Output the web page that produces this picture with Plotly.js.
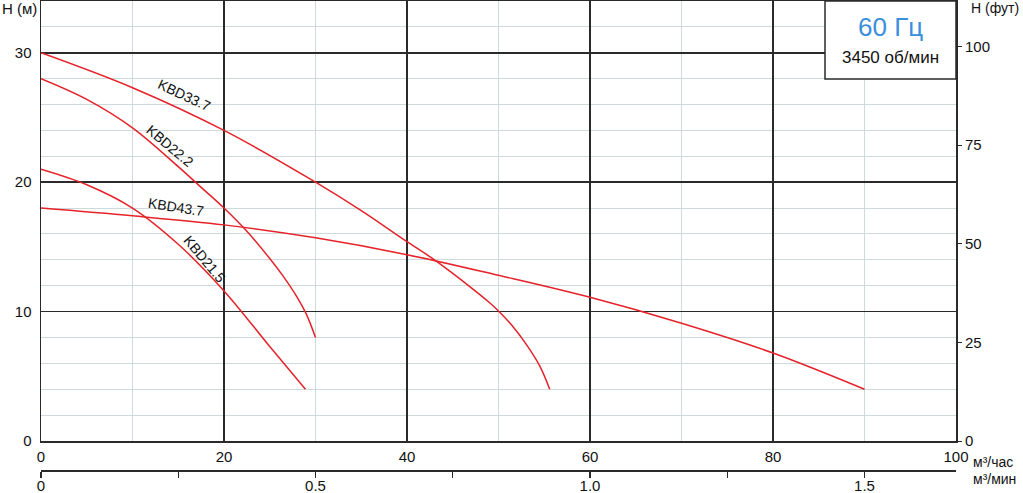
<!DOCTYPE html>
<html>
<head>
<meta charset="utf-8">
<script src="https://cdn.plot.ly/plotly-3.0.1.min.js"></script>
<style>html,body{margin:0;padding:0;background:#fff;}#chart{width:1023px;height:493px;}</style>
</head>
<body>
<div id="chart"></div>
<script>
// Flow (m³/h) and head (m)
const q33 = [0, 10, 20, 30, 35, 40, 43, 45, 47, 49, 50, 51.5, 53, 54.5, 55.6];
const h33 = [30, 27.3, 24.0, 20.0, 17.8, 15.4, 14.0, 12.95, 11.85, 10.7, 10.05, 8.9, 7.5, 5.8, 4.0];
const q22 = [0, 5, 10, 15, 17.5, 20, 22.5, 25, 26.5, 28, 29, 30];
const h22 = [28, 26.4, 24.2, 21.2, 19.6, 18.0, 16.2, 14.1, 12.7, 11.1, 9.8, 8.0];
const q43 = [0, 10, 20, 30, 40, 50, 60, 70, 80, 90];
const h43 = [18, 17.4, 16.7, 15.7, 14.4, 12.8, 11.1, 9.1, 6.8, 4.0];
const q21 = [0, 5, 10, 15, 20, 25, 28.9];
const h21 = [21, 19.8, 18.0, 15.2, 11.6, 7.3, 4.0];

const seriesNames = ['KBD33.7', 'KBD22.2', 'KBD43.7', 'KBD21.5'];
const xTicks = [0, 20, 40, 60, 80, 100];
const yTicks = [0, 10, 20, 30];
const ftTicks = [0, 25, 50, 75, 100];
const minTicks = [0, 0.5, 1.0, 1.5];
const minTickText = ['0', '0.5', '1.0', '1.5'];
const minMinor = [0.25, 0.75, 1.25];

const FONT = 'Liberation Sans, Arial, sans-serif';
const RED = '#e52229';
const DARK = '#2a2a2a';
const LIGHT = '#cdd9da';
const TXT = '#111';

const curves = [[q33, h33], [q22, h22], [q43, h43], [q21, h21]];
const traces = curves.map((c, i) => ({
  x: c[0], y: c[1], name: seriesNames[i], type: 'scatter', mode: 'lines',
  line: {color: RED, width: 1.5, shape: 'spline', smoothing: 1},
  hoverinfo: 'skip', showlegend: false, xaxis: 'x', yaxis: 'y'
}));
// invisible helper trace so the secondary axes (m³/min, ft) are drawn
traces.push({x: [null], y: [null], type: 'scatter', mode: 'lines', xaxis: 'x2', yaxis: 'y2', showlegend: false, hoverinfo: 'skip'});

const mToFt = 1 / 0.3048;
const yMax = 34;
const dom0 = (470 - 441) / 469;

const labelPos = [
  {t: seriesNames[0], x: 15.6, y: 26.7, a: 25},
  {t: seriesNames[1], x: 14.1, y: 22.8, a: 40},
  {t: seriesNames[2], x: 14.8, y: 18.1, a: 9},
  {t: seriesNames[3], x: 17.9, y: 14.1, a: 50}
];

const annotations = labelPos.map(l => ({
  text: l.t, x: l.x, y: l.y, xref: 'x', yref: 'y', showarrow: false,
  textangle: l.a, font: {family: FONT, size: 14, color: TXT}
}));
const px = v => (v - 41) / 915;
const py = v => (470 - v) / 469;
annotations.push(
  {text: 'H (м)', x: px(0), y: py(8), xref: 'paper', yref: 'paper', xanchor: 'left', yanchor: 'middle', showarrow: false, font: {family: FONT, size: 15, color: TXT}},
  {text: 'H (фут)', x: px(969), y: py(8), xref: 'paper', yref: 'paper', xanchor: 'left', yanchor: 'middle', showarrow: false, font: {family: FONT, size: 14, color: TXT}},
  {text: 'м³/час', x: px(971), y: py(462), xref: 'paper', yref: 'paper', xanchor: 'left', yanchor: 'middle', showarrow: false, font: {family: FONT, size: 14, color: TXT}},
  {text: 'м³/мин', x: px(971), y: py(479), xref: 'paper', yref: 'paper', xanchor: 'left', yanchor: 'middle', showarrow: false, font: {family: FONT, size: 14, color: TXT}},
  {text: '60 Гц', x: px(890), y: py(27), xref: 'paper', yref: 'paper', xanchor: 'center', yanchor: 'middle', showarrow: false, font: {family: FONT, size: 26, color: '#3a8fdc'}},
  {text: '3450 об/мин', x: px(890), y: py(58), xref: 'paper', yref: 'paper', xanchor: 'center', yanchor: 'middle', showarrow: false, font: {family: FONT, size: 17, color: TXT}}
);

const tickFont = {family: FONT, size: 15, color: TXT};

const layout = {
  width: 1023, height: 493,
  margin: {l: 41, r: 67, t: 1, b: 23, pad: 0},
  paper_bgcolor: '#fff', plot_bgcolor: '#fff',
  font: {family: FONT, size: 15, color: TXT},
  showlegend: false,
  xaxis: {
    range: [0, 100], domain: [0, 1], anchor: 'y',
    tickvals: xTicks, ticks: '', showgrid: true, gridcolor: DARK, gridwidth: 1.5,
    minor: {dtick: 10, showgrid: true, gridcolor: LIGHT, gridwidth: 1},
    showline: true, linecolor: DARK, linewidth: 1.5, mirror: true, zeroline: false,
    tickfont: tickFont, ticklabelstandoff: 1
  },
  yaxis: {
    range: [0, yMax], domain: [dom0, 1], anchor: 'x',
    tickvals: yTicks, ticks: '', showgrid: true, gridcolor: DARK, gridwidth: 1.5,
    minor: {dtick: 2, showgrid: true, gridcolor: LIGHT, gridwidth: 1},
    showline: true, linecolor: DARK, linewidth: 1.5, mirror: true, zeroline: false,
    tickfont: tickFont, ticklabelstandoff: 5
  },
  yaxis2: {
    overlaying: 'y', side: 'right', anchor: 'x', range: [0, yMax * mToFt],
    tickvals: ftTicks, ticks: 'outside', ticklen: 5, tickcolor: DARK, tickwidth: 1,
    showgrid: false, zeroline: false, showline: false,
    tickfont: tickFont
  },
  xaxis2: {
    overlaying: 'x', side: 'bottom', anchor: 'free', position: 0,
    range: [0, 100 / 60],
    tickvals: minTicks, ticktext: minTickText, ticks: 'outside', ticklen: 6, tickcolor: DARK, tickwidth: 1.2,
    minor: {tickvals: minMinor, ticks: 'outside', ticklen: 6, tickcolor: DARK, tickwidth: 1.2},
    showgrid: false, zeroline: false, showline: true, linecolor: DARK, linewidth: 1.5,
    tickfont: tickFont, ticklabelstandoff: -5
  },
  shapes: [{
    type: 'rect', xref: 'paper', yref: 'paper', layer: 'above',
    x0: px(825), x1: 1, y0: py(79), y1: 1,
    fillcolor: '#fff', line: {color: DARK, width: 1.5}
  }],
  annotations: annotations
};

Plotly.newPlot('chart', traces, layout, {staticPlot: true, displayModeBar: false});
</script>
</body>
</html>
